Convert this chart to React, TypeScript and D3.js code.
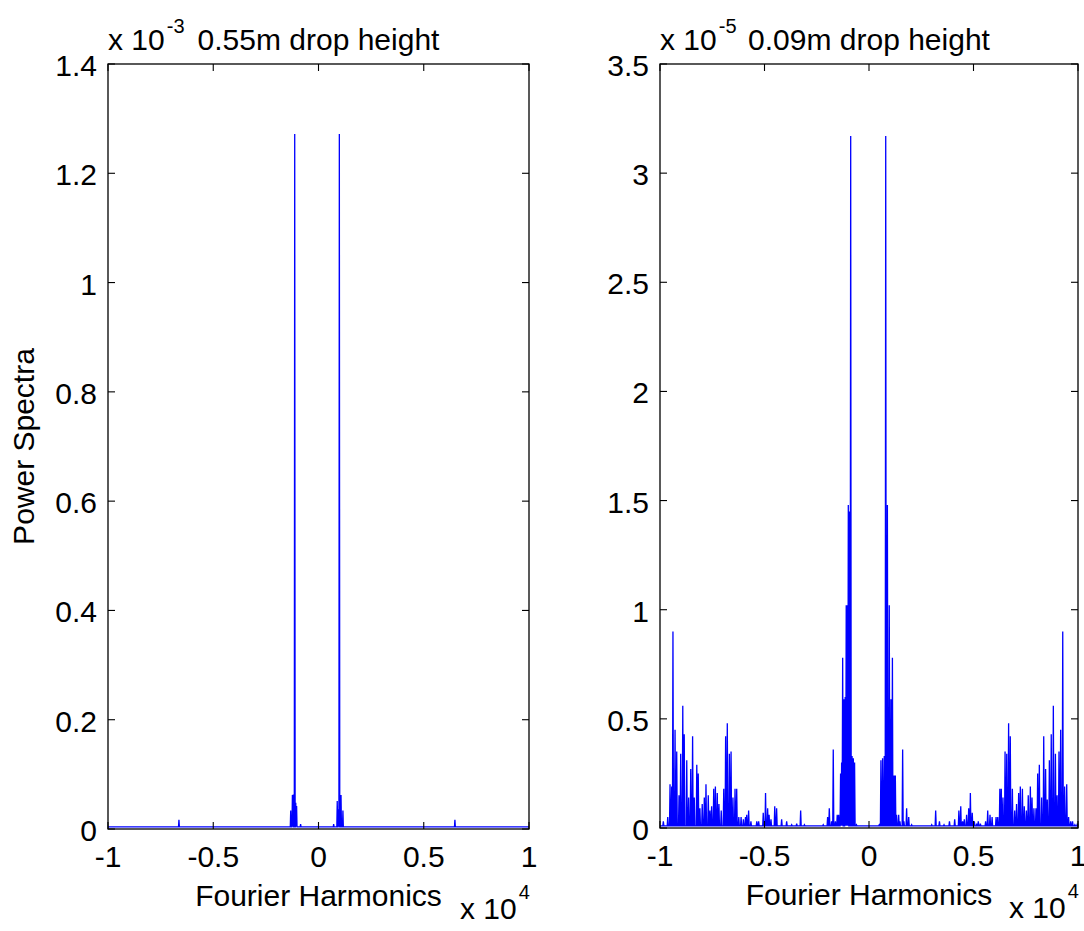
import React from 'react';
import * as d3 from 'd3';

// x axis in units of 10^4, both panels
const xTicks = [-1, -0.5, 0, 0.5, 1];

// left panel: 0.55m drop, power in units of 10^-3
const leftTitle = '0.55m drop height';
const leftExp = '-3';
const leftYTicks = [0, 0.2, 0.4, 0.6, 0.8, 1, 1.2, 1.4];
const leftFloor = 0.004;
const leftFreq = [-0.663, -0.132, -0.124, -0.12, -0.113, -0.108, -0.104, -0.085,
  0.072, 0.089, 0.095, 0.099, 0.107, 0.116, 0.648];
const leftPower = [0.017, 0.034, 0.062, 0.063, 1.272, 0.048, 0.042, 0.009,
  0.009, 0.051, 0.036, 1.272, 0.062, 0.034, 0.017];

// right panel: 0.09m drop, power in units of 10^-5
const rightTitle = '0.09m drop height';
const rightExp = '-5';
const rightYTicks = [0, 0.5, 1, 1.5, 2, 2.5, 3, 3.5];
const rightFloor = 0.01;
const rightFreq = [
  -0.984, -0.963, -0.952, -0.944, -0.938, -0.928, -0.92, -0.909, -0.901, -0.891,
  -0.884, -0.872, -0.863, -0.853, -0.844, -0.836, -0.824, -0.817, -0.809, -0.798,
  -0.788, -0.78, -0.769, -0.761, -0.753, -0.743, -0.735, -0.726, -0.718, -0.707,
  -0.695, -0.686, -0.678, -0.668, -0.66, -0.651, -0.641, -0.633, -0.623, -0.612,
  -0.601, -0.591, -0.585, -0.576, -0.565, -0.537, -0.528, -0.506, -0.495, -0.485,
  -0.478, -0.469, -0.451, -0.442, -0.418, -0.394, -0.37, -0.346, -0.327, -0.309,
  -0.219, -0.198, -0.19, -0.179, -0.171, -0.161, -0.152, -0.145, -0.136, -0.131,
  -0.126, -0.12, -0.114, -0.109, -0.104, -0.099, -0.093, -0.0876, -0.081, -0.075,
  -0.069, -0.06,
  0.049, 0.057, 0.065, 0.073, 0.08, 0.088, 0.097, 0.105, 0.112, 0.12,
  0.126, 0.132, 0.142, 0.148, 0.161, 0.167, 0.18, 0.19, 0.204, 0.3,
  0.319, 0.337, 0.359, 0.385, 0.41, 0.43, 0.439, 0.448, 0.456, 0.467,
  0.477, 0.485, 0.494, 0.504, 0.515, 0.523, 0.533, 0.558, 0.568, 0.579,
  0.589, 0.608, 0.616, 0.626, 0.633, 0.641, 0.651, 0.659, 0.668, 0.676,
  0.686, 0.697, 0.706, 0.716, 0.724, 0.734, 0.743, 0.753, 0.762, 0.772,
  0.78, 0.789, 0.799, 0.807, 0.815, 0.826, 0.836, 0.845, 0.853, 0.863,
  0.872, 0.882, 0.892, 0.9, 0.909, 0.917, 0.927, 0.936, 0.946, 0.955,
  0.965, 0.974, 0.985, 0.997];
const rightPower = [
  0.03, 0.05, 0.2, 0.19, 0.9, 0.45, 0.35, 0.15, 0.34, 0.56,
  0.43, 0.31, 0.14, 0.27, 0.42, 0.14, 0.29, 0.25, 0.09, 0.11,
  0.14, 0.2, 0.15, 0.08, 0.1, 0.18, 0.19, 0.16, 0.11, 0.08,
  0.18, 0.42, 0.48, 0.34, 0.35, 0.14, 0.18, 0.18, 0.05, 0.05,
  0.04, 0.05, 0.06, 0.08, 0.03, 0.03, 0.03, 0.07, 0.16, 0.09,
  0.06, 0.04, 0.1, 0.09, 0.04, 0.03, 0.015, 0.02, 0.08, 0.015,
  0.015, 0.05, 0.09, 0.03, 0.36, 0.03, 0.06, 0.06, 0.25, 0.3,
  0.78, 0.59, 0.6, 1.02, 1.02, 1.48, 1.45, 3.17, 0.33, 0.32,
  0.3, 0.015,
  0.015, 0.31, 0.32, 0.33, 3.17, 1.48, 1.02, 0.59, 0.78, 0.24,
  0.24, 0.06, 0.06, 0.03, 0.36, 0.03, 0.09, 0.05, 0.015, 0.015,
  0.08, 0.03, 0.015, 0.03, 0.04, 0.08, 0.1, 0.03, 0.04, 0.06,
  0.09, 0.16, 0.07, 0.03, 0.02, 0.03, 0.02, 0.03, 0.08, 0.06,
  0.05, 0.05, 0.05, 0.18, 0.18, 0.14, 0.35, 0.34, 0.48, 0.42,
  0.18, 0.08, 0.11, 0.16, 0.19, 0.18, 0.1, 0.08, 0.15, 0.19,
  0.14, 0.09, 0.09, 0.25, 0.29, 0.14, 0.42, 0.27, 0.13, 0.31,
  0.43, 0.56, 0.34, 0.15, 0.35, 0.45, 0.9, 0.19, 0.2, 0.05,
  0.03, 0.03, 0.015, 0.02];

const FONT = '"Liberation Sans", Arial, Helvetica, sans-serif';

class App extends React.Component {
  svgRef = React.createRef<SVGSVGElement>();

  drawPanel(svg, p) {
    var x = d3.scaleLinear().domain([-1, 1]).range([p.left, p.right]);
    var y = d3.scaleLinear().domain([0, p.yMax]).range([p.bottom, p.top]);
    var tick = 7;
    var g = svg.append('g');

    // spectrum: each spike drawn as a thin peak above the noise floor
    var pts: [number, number][] = [[-1, p.floor]];
    var idx = d3.range(p.freq.length).sort((a, b) => p.freq[a] - p.freq[b]);
    idx.forEach(i => {
      pts.push([p.freq[i] - p.half, p.floor]);
      pts.push([p.freq[i], p.power[i]]);
      pts.push([p.freq[i] + p.half, p.floor]);
    });
    pts.push([1, p.floor]);
    var line = d3.line<[number, number]>().x(d => x(d[0])).y(d => y(d[1]));
    g.append('path')
      .attr('d', line(pts))
      .attr('fill', 'none')
      .attr('stroke', '#0000ff')
      .attr('stroke-width', 1.3)
      .attr('stroke-linejoin', 'miter');

    // box
    g.append('rect')
      .attr('x', p.left).attr('y', p.top)
      .attr('width', p.right - p.left).attr('height', p.bottom - p.top)
      .attr('fill', 'none').attr('stroke', '#000').attr('stroke-width', 1.3);

    // x ticks, inward on bottom and top
    xTicks.forEach(t => {
      g.append('line').attr('x1', x(t)).attr('x2', x(t)).attr('y1', p.bottom).attr('y2', p.bottom - tick)
        .attr('stroke', '#000').attr('stroke-width', 1.1);
      g.append('line').attr('x1', x(t)).attr('x2', x(t)).attr('y1', p.top).attr('y2', p.top + tick)
        .attr('stroke', '#000').attr('stroke-width', 1.1);
      g.append('text')
        .attr('x', x(t)).attr('y', p.bottom + 38)
        .attr('text-anchor', 'middle')
        .text(String(t));
    });

    // y ticks, inward on left and right
    p.yTicks.forEach(t => {
      g.append('line').attr('x1', p.left).attr('x2', p.left + tick).attr('y1', y(t)).attr('y2', y(t))
        .attr('stroke', '#000').attr('stroke-width', 1.1);
      g.append('line').attr('x1', p.right).attr('x2', p.right - tick).attr('y1', y(t)).attr('y2', y(t))
        .attr('stroke', '#000').attr('stroke-width', 1.1);
      g.append('text')
        .attr('x', p.left - 11).attr('y', y(t) + 12)
        .attr('text-anchor', 'end')
        .text(String(t));
    });

    // exponent label above the y axis, and title
    var ex = g.append('text').attr('x', p.left).attr('y', p.top - 14);
    ex.append('tspan').text('x 10');
    ex.append('tspan').attr('dy', -17).attr('dx', 2).attr('font-size', 20).text(p.exp);

    g.append('text')
      .attr('x', (p.left + p.right) / 2).attr('y', p.top - 14)
      .attr('text-anchor', 'middle')
      .text(p.title);

    // x label and its exponent
    g.append('text')
      .attr('x', (p.left + p.right) / 2).attr('y', p.bottom + 77)
      .attr('text-anchor', 'middle')
      .text('Fourier Harmonics');
    var xe = g.append('text').attr('x', p.right - 69).attr('y', p.bottom + 90);
    xe.append('tspan').text('x 10');
    xe.append('tspan').attr('dy', -20).attr('dx', 2).attr('font-size', 20).text('4');

    if (p.ylabel) {
      g.append('text')
        .attr('transform', 'translate(34,' + (p.top + p.bottom) / 2 + ') rotate(-90)')
        .attr('text-anchor', 'middle')
        .text(p.ylabel);
    }
  }

  generatePlot() {
    var svg = d3.select(this.svgRef.current);
    svg.selectAll('*').remove();
    svg.attr('font-family', FONT).attr('font-size', 30).attr('fill', '#000');

    this.drawPanel(svg, {
      left: 108, right: 529, top: 64, bottom: 829,
      yMax: 1.4, yTicks: leftYTicks, floor: leftFloor, half: 0.002,
      freq: leftFreq, power: leftPower, title: leftTitle, exp: leftExp,
      ylabel: 'Power Spectra'
    });
    this.drawPanel(svg, {
      left: 660, right: 1078, top: 64, bottom: 828,
      yMax: 3.5, yTicks: rightYTicks, floor: rightFloor, half: 0.0025,
      freq: rightFreq, power: rightPower, title: rightTitle, exp: rightExp,
      ylabel: null
    });
  }

  componentDidMount() {
    this.generatePlot();
  }

  componentDidUpdate() {
    this.generatePlot();
  }

  render() {
    return (
      <svg ref={this.svgRef} width={1084} height={931}
        style={{ position: 'absolute', left: 0, top: 0, background: '#fff' }} />
    );
  }
}

export default App;
